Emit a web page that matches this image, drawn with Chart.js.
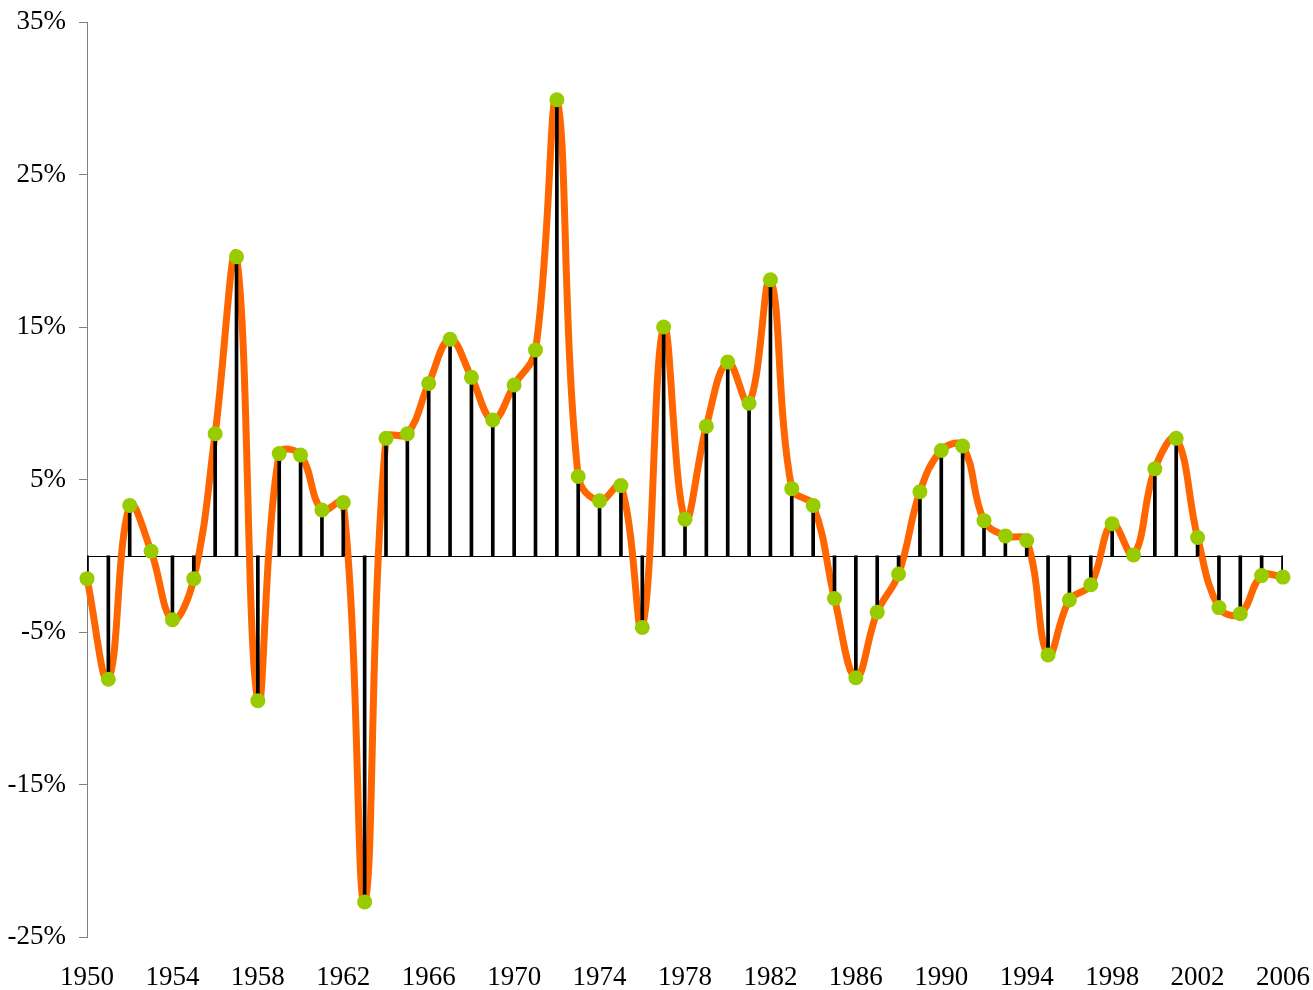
<!DOCTYPE html>
<html>
<head>
<meta charset="utf-8">
<script src="https://cdn.jsdelivr.net/npm/chart.js@4/dist/chart.umd.min.js"></script>
<style>
html,body{margin:0;padding:0;background:#fff;}
#wrap{width:1313px;height:990px;position:relative;}
</style>
</head>
<body>
<div id="wrap"><canvas id="c"></canvas></div>
<script>
const years = ['1950','1951','1952','1953','1954','1955','1956','1957','1958','1959',
  '1960','1961','1962','1963','1964','1965','1966','1967','1968','1969',
  '1970','1971','1972','1973','1974','1975','1976','1977','1978','1979',
  '1980','1981','1982','1983','1984','1985','1986','1987','1988','1989',
  '1990','1991','1992','1993','1994','1995','1996','1997','1998','1999',
  '2000','2001','2002','2003','2004','2005','2006'];
const returns = [-1.5, -8.1, 3.3, 0.3, -4.2, -1.5, 8.0, 19.6, -9.5, 6.7,
  6.6, 3.0, 3.5, -22.7, 7.7, 8.0, 11.3, 14.2, 11.7, 8.9,
  11.2, 13.5, 29.9, 5.2, 3.6, 4.6, -4.7, 15.0, 2.4, 8.5,
  12.7, 10.0, 18.1, 4.4, 3.3, -2.8, -8.0, -3.7, -1.2, 4.2,
  6.9, 7.2, 2.3, 1.3, 1.0, -6.5, -2.9, -1.9, 2.1, 0.05,
  5.7, 7.7, 1.2, -3.4, -3.8, -1.3, -1.4];
const xTickLabels = ['1950','1954','1958','1962','1966','1970','1974','1978','1982','1986','1990','1994','1998','2002','2006'];
const yTickValues = [-25, -15, -5, 5, 15, 25, 35];

const FONT = {family: '"Liberation Serif", "Times New Roman", serif', size: 27};

const zeroLine = {
  id: 'zeroLine',
  beforeDatasetsDraw(chart) {
    const {ctx, chartArea, scales} = chart;
    const y = Math.round(scales.y.getPixelForValue(0)) + 0.5;
    ctx.save();
    ctx.strokeStyle = '#000';
    ctx.lineWidth = 1;
    ctx.beginPath();
    ctx.moveTo(chartArea.left, y);
    ctx.lineTo(chartArea.right, y);
    ctx.stroke();
    ctx.restore();
  }
};

new Chart(document.getElementById('c'), {
  data: {
    labels: years,
    datasets: [
      {
        type: 'line', data: returns, order: 3,
        borderColor: '#FF6600', borderWidth: 7, tension: 0.4,
        pointRadius: 0, fill: false, clip: false
      },
      {
        type: 'bar', data: returns, order: 2,
        backgroundColor: '#000', barThickness: 3, borderWidth: 0
      },
      {
        type: 'line', data: returns, order: 1, showLine: false,
        pointRadius: 7.5, pointBackgroundColor: '#99CC00', pointBorderWidth: 0,
        pointBorderColor: '#99CC00', clip: false
      }
    ]
  },
  options: {
    responsive: true,
    maintainAspectRatio: false,
    animation: false,
    events: [],
    layout: {padding: 0},
    plugins: {legend: {display: false}, tooltip: {enabled: false}},
    scales: {
      x: {
        type: 'category',
        offset: false,
        grid: {display: false, drawTicks: false, offset: false},
        border: {display: false},
        afterFit: (s) => { s.height = 53; s.paddingLeft = 0; s.paddingRight = 30; },
        ticks: {
          autoSkip: false, maxRotation: 0, minRotation: 0,
          color: '#000', font: FONT, padding: 25,
          callback: function(v, i) {
            const l = years[i];
            return xTickLabels.includes(l) ? l : null;
          }
        }
      },
      y: {
        min: -25, max: 35,
        afterBuildTicks: (s) => { s.ticks = yTickValues.map(v => ({value: v})); },
        afterFit: (s) => { s.width = 87; s.paddingTop = 22; s.paddingBottom = 0; },
        grid: {drawOnChartArea: false, drawTicks: true, tickLength: 8, color: '#808080'},
        border: {display: true, color: '#808080', width: 1},
        ticks: {
          color: '#000', font: FONT, padding: 13,
          callback: (v) => v + '%'
        }
      }
    }
  },
  plugins: [zeroLine]
});
</script>
</body>
</html>
